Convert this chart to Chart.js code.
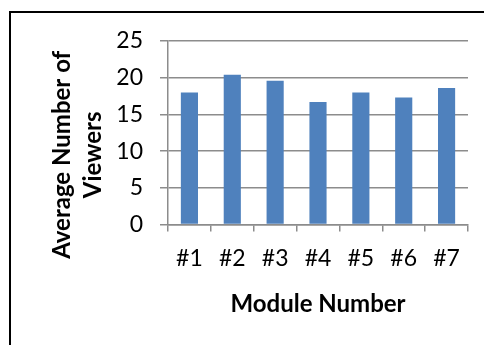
<!DOCTYPE html>
<html>
<head>
<meta charset="utf-8">
<script src="https://cdn.jsdelivr.net/npm/chart.js@4/dist/chart.umd.min.js"></script>
<style>
  html, body { margin: 0; padding: 0; background: #fff; }
  #wrap { position: relative; width: 484px; height: 345px; overflow: hidden; }
  #frame { position: absolute; left: 9px; top: 11px; width: 600px; height: 500px;
           border-left: 2px solid #000; border-top: 2px solid #000; box-sizing: border-box; }
  canvas { position: absolute; left: 0; top: 0; }
</style>
</head>
<body>
<div id="wrap">
  <div id="frame"></div>
  <canvas id="chart" width="484" height="345"></canvas>
</div>
<script>
const modules = ['#1', '#2', '#3', '#4', '#5', '#6', '#7'];
const avgViewers = [18.0, 20.4, 19.6, 16.7, 18.0, 17.3, 18.6];
const yTicks = [0, 5, 10, 15, 20, 25];
const xTitle = 'Module Number';
const yTitleLines = ['Average Number of', 'Viewers'];

const FONT = 'Lato, "Open Sans", sans-serif';
const GRID = '#8c8c8c';

// Two-line rotated title for the value axis, centred on the plot plus its category labels
const yTitlePlugin = {
  id: 'yTitle',
  afterDraw(chart) {
    const { ctx, chartArea, scales } = chart;
    const cy = (chartArea.top + scales.x.top + 44) / 2;
    ctx.save();
    ctx.fillStyle = '#000';
    ctx.font = 'bold 24px ' + FONT;
    ctx.textAlign = 'center';
    ctx.textBaseline = 'middle';
    const xs = [62, 93];
    yTitleLines.forEach((line, i) => {
      ctx.save();
      ctx.translate(xs[i], cy);
      ctx.rotate(-Math.PI / 2);
      ctx.fillText(line, 0, 0);
      ctx.restore();
    });
    ctx.restore();
  }
};

new Chart(document.getElementById('chart'), {
  type: 'bar',
  data: {
    labels: modules,
    datasets: [{
      data: avgViewers,
      backgroundColor: '#4f81bd',
      barPercentage: 0.4,
      categoryPercentage: 1.0
    }]
  },
  options: {
    responsive: false,
    animation: false,
    layout: { padding: { left: 0, right: 16, top: 41, bottom: 26 } },
    plugins: { legend: { display: false }, tooltip: { enabled: false } },
    scales: {
      x: {
        offset: true,
        grid: { display: true, drawOnChartArea: false, drawTicks: true, tickLength: 7,
                offset: true, color: GRID, lineWidth: 1.5 },
        border: { display: true, color: GRID, width: 1.5 },
        ticks: { color: '#000', font: { family: FONT, size: 23 }, padding: 13 },
        title: { display: true, text: xTitle, color: '#000',
                 font: { family: FONT, size: 24, weight: 'bold' }, padding: { top: 5, bottom: 0 } }
      },
      y: {
        min: 0, max: 25,
        afterFit(scale) { scale.width = 168; },
        afterBuildTicks(scale) { scale.ticks = yTicks.map(v => ({ value: v })); },
        grid: { color: GRID, lineWidth: 1.5, tickLength: 8 },
        border: { display: true, color: GRID, width: 1.5 },
        ticks: { color: '#000', font: { family: FONT, size: 23 }, padding: 17 }
      }
    }
  },
  plugins: [yTitlePlugin]
});
</script>
</body>
</html>
